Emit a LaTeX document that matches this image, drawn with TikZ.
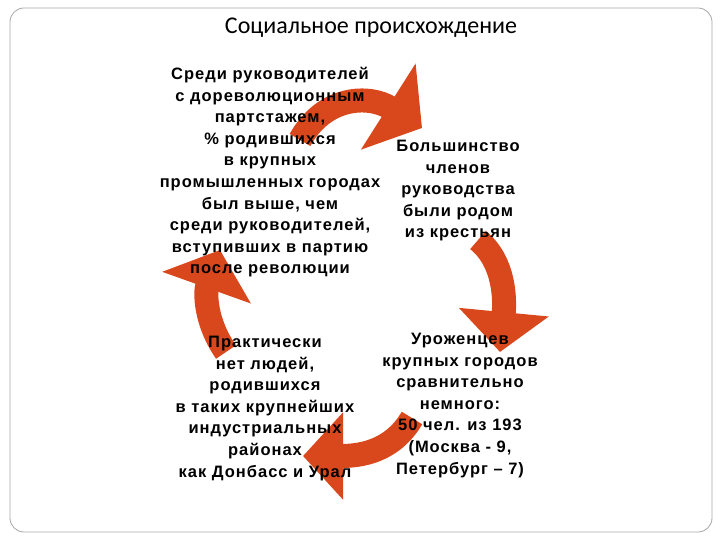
\documentclass[tikz,border=0pt]{standalone}
\usepackage{fontspec}
\setmainfont{Liberation Sans}[LetterSpace=6]
\newfontfamily\titlefont{Carlito}
\usetikzlibrary{arrows.meta}
\definecolor{arr}{HTML}{D9481C}
\tikzset{
  txt/.style={align=center,font=\bfseries\fontsize{16.5}{21.6}\selectfont,inner sep=0pt},
  carr/.style={line width=24pt,draw=arr,-{Triangle[length=40pt,width=#1]}}
}
\begin{document}
\begin{tikzpicture}[x=1pt,y=-1pt]
\useasboundingbox (0,0) rectangle (720,540);
\draw[gray!70,rounded corners=14pt,line width=0.8pt] (10,8) rectangle (712,532);
\node[font=\titlefont\fontsize{24}{26}\selectfont] (title) at (371,28) {Социальное происхождение};
\coordinate (a1s) at (300,140); \coordinate (a1e) at (422,128);
\coordinate (a2s) at (478,240); \coordinate (a2e) at (500,352);
\coordinate (a3s) at (412,418); \coordinate (a3e) at (303,456);
\coordinate (a4s) at (226,352); \coordinate (a4e) at (220,250);
\draw[carr=100pt] (a1s) .. controls (325,95) and (370,95) .. (a1e);
\draw[carr=88pt] (a2s) .. controls (505,262) and (505,300) .. (a2e);
\draw[carr=85pt] (a3s) .. controls (392,452) and (360,456) .. (a3e);
\draw[carr=92pt] (a4s) .. controls (205,322) and (205,292) .. (a4e);
\node[txt,anchor=north] (t1) at (270,67) {Среди руководителей\\с дореволюционным\\партстажем,\\\% родившихся\\в крупных\\промышленных городах\\был выше, чем\\среди руководителей,\\вступивших в партию\\после революции};
\node[txt,anchor=north] (t2) at (458,140) {Большинство\\членов\\руководства\\были родом\\из крестьян};
\node[txt,anchor=north] (t3) at (265,336) {Практически\\нет людей,\\родившихся\\в таких крупнейших\\индустриальных\\районах\\как Донбасс и Урал};
\node[txt,anchor=north] (t4) at (460,333) {Уроженцев\\крупных городов\\сравнительно\\немного:\\50 чел. из 193\\(Москва - 9,\\Петербург – 7)};
\end{tikzpicture}
\end{document}
